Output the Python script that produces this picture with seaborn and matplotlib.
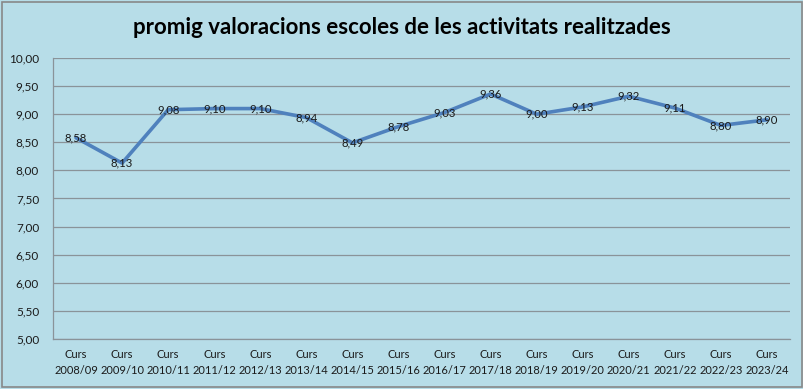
import matplotlib
matplotlib.use("Agg")
import matplotlib.pyplot as plt
import pandas as pd
import seaborn as sns
from matplotlib.patches import Rectangle

cursos = ["2008/09", "2009/10", "2010/11", "2011/12", "2012/13", "2013/14", "2014/15", "2015/16",
          "2016/17", "2017/18", "2018/19", "2019/20", "2020/21", "2021/22", "2022/23", "2023/24"]
valors = [8.58, 8.13, 9.08, 9.10, 9.10, 8.94, 8.49, 8.78, 9.03, 9.36, 9.00, 9.13, 9.32, 9.11, 8.80, 8.90]
yticks = [5.0, 5.5, 6.0, 6.5, 7.0, 7.5, 8.0, 8.5, 9.0, 9.5, 10.0]

bg = "#B7DDE8"
line_color = "#4F81BD"
grid_color = "#8A9399"

sns.set_theme(style="white")
plt.rcParams["font.family"] = ["Lato", "DejaVu Sans"]

df = pd.DataFrame({"x": range(len(cursos)), "valor": valors})

fig = plt.figure(figsize=(8.04, 3.89), dpi=100, facecolor=bg)
ax = fig.add_axes([53 / 804, 1 - 339 / 389, (790 - 53) / 804, (339 - 58) / 389])
ax.set_facecolor(bg)

sns.lineplot(data=df, x="x", y="valor", color=line_color, linewidth=2.6, ax=ax)

for x, v in zip(df["x"], df["valor"]):
    ax.text(x, v, f"{v:.2f}".replace(".", ","), ha="center", va="center",
            fontsize=8.2, color="#1a1a1a")

ax.set_xlim(-0.5, len(cursos) - 0.5)
ax.set_ylim(5, 10)
ax.set_yticks(yticks)
ax.set_yticklabels([f"{t:.2f}".replace(".", ",") for t in yticks], fontsize=8.5, color="#1a1a1a")
ax.set_xticks(range(len(cursos)))
ax.set_xticklabels([f"Curs\n{c}" for c in cursos], fontsize=8.0, color="#1a1a1a", linespacing=1.55)
ax.tick_params(axis="y", length=0, pad=10)
ax.tick_params(axis="x", length=0, pad=7)
ax.yaxis.grid(True, color=grid_color, linewidth=0.9)
ax.set_xlabel("")
ax.set_ylabel("")
for side in ["top", "right"]:
    ax.spines[side].set_visible(False)
for side in ["left", "bottom"]:
    ax.spines[side].set_color(grid_color)
    ax.spines[side].set_linewidth(0.9)

fig.text(0.5, 1 - 28 / 389, "promig valoracions escoles de les activitats realitzades",
         ha="center", va="center", fontsize=16, fontweight="bold", color="black")

fig.patches.append(Rectangle((0.003, 0.004), 0.994, 0.992, transform=fig.transFigure,
                             fill=False, edgecolor="#888888", linewidth=1.2))

fig.savefig("out.png", dpi=100, facecolor=bg)
